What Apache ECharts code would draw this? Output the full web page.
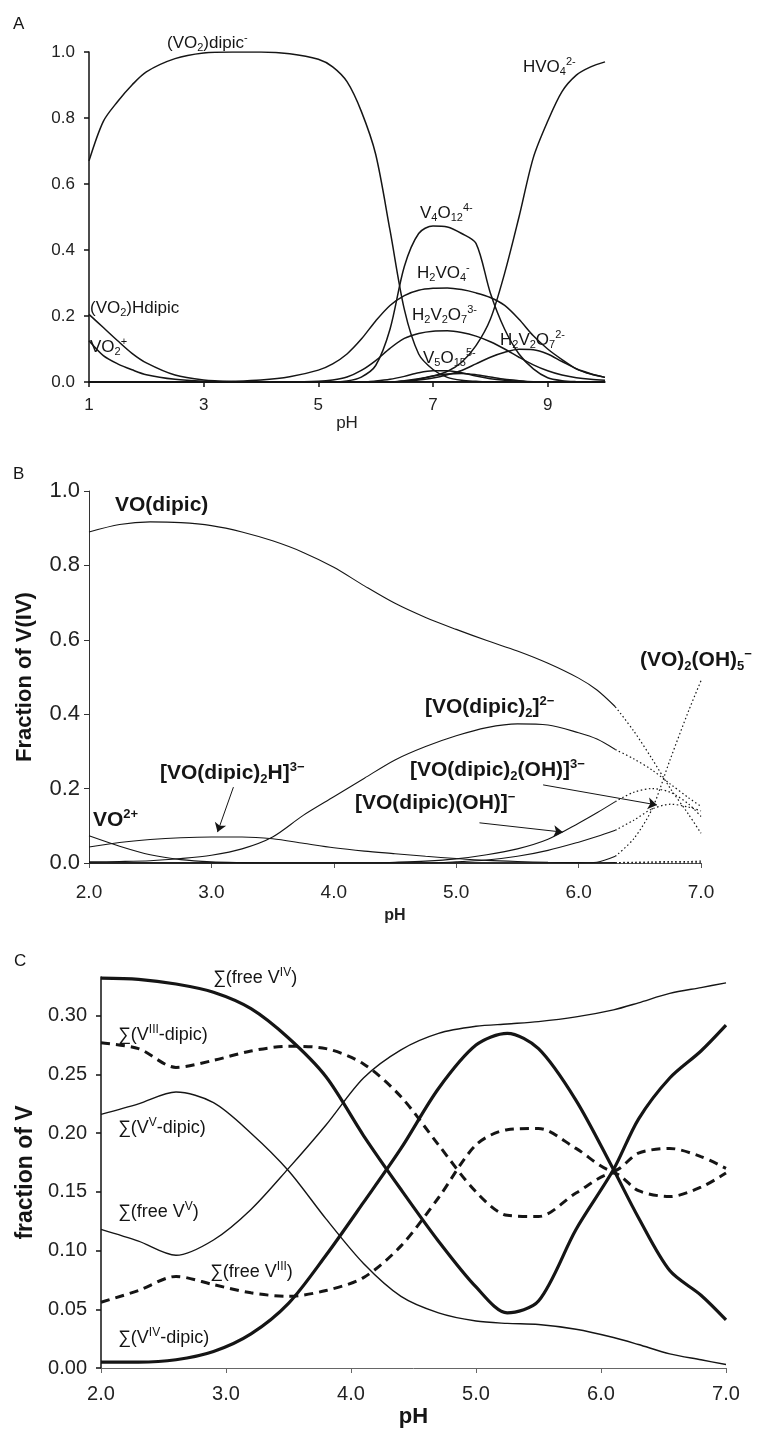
<!DOCTYPE html>
<html>
<head>
<meta charset="utf-8">
<title>Vanadium speciation</title>
<script src="https://cdn.jsdelivr.net/npm/echarts@6/dist/echarts.min.js"></script>
<style>
  *{margin:0; padding:0;}
  body{background:#fff;}
  #main{width:772px; height:1431px;}
</style>
</head>
<body>
<div id="main"></div>
<script>
// ---------- panel A : V(V) / dipic ----------
var phA = [1, 1.25, 1.5, 1.75, 2, 2.5, 3, 3.5, 4, 4.5, 5, 5.25, 5.5, 5.75, 6, 6.25, 6.5, 6.75, 7, 7.25, 7.5, 7.75, 8, 8.25, 8.5, 8.75, 9, 9.25, 9.5, 9.75, 10];
var aVO2dipic = [0.67, 0.79, 0.85, 0.90, 0.94, 0.98, 0.997, 1.0, 1.0, 0.995, 0.978, 0.955, 0.91, 0.82, 0.69, 0.46, 0.22, 0.085, 0.038, 0.014, 0.005, 0.002, 0, 0, 0, 0, 0, 0, 0, 0, 0];
var aHVO4 = [0, 0, 0, 0, 0, 0, 0, 0, 0, 0, 0, 0, 0, 0, 0, 0, 0.002, 0.008, 0.018, 0.032, 0.06, 0.11, 0.19, 0.33, 0.5, 0.68, 0.79, 0.88, 0.93, 0.955, 0.97];
var aV4O12 = [0, 0, 0, 0, 0, 0, 0, 0, 0, 0, 0, 0, 0.003, 0.015, 0.05, 0.16, 0.35, 0.45, 0.473, 0.47, 0.45, 0.42, 0.27, 0.16, 0.085, 0.04, 0.013, 0.004, 0.001, 0, 0];
var aH2VO4 = [0, 0, 0, 0, 0, 0, 0, 0.002, 0.006, 0.016, 0.036, 0.055, 0.085, 0.13, 0.185, 0.232, 0.262, 0.278, 0.284, 0.285, 0.28, 0.27, 0.256, 0.232, 0.19, 0.14, 0.1, 0.068, 0.04, 0.024, 0.014];
var aH2V2O7_3 = [0, 0, 0, 0, 0, 0, 0, 0, 0, 0, 0.002, 0.006, 0.015, 0.035, 0.065, 0.102, 0.132, 0.147, 0.154, 0.155, 0.15, 0.139, 0.122, 0.1, 0.075, 0.052, 0.034, 0.021, 0.013, 0.008, 0.005];
var aH2V2O7_2 = [0, 0, 0, 0, 0, 0, 0, 0, 0, 0, 0, 0, 0, 0, 0, 0, 0.002, 0.006, 0.012, 0.022, 0.035, 0.055, 0.075, 0.09, 0.099, 0.098, 0.085, 0.062, 0.04, 0.025, 0.014];
var aV5O15 = [0, 0, 0, 0, 0, 0, 0, 0, 0, 0, 0, 0, 0, 0, 0.003, 0.008, 0.017, 0.028, 0.034, 0.034, 0.028, 0.018, 0.01, 0.005, 0.002, 0, 0, 0, 0, 0, 0];
var aMinor = [0, 0, 0, 0, 0, 0, 0, 0, 0, 0, 0, 0, 0, 0, 0, 0, 0.004, 0.01, 0.018, 0.024, 0.026, 0.022, 0.015, 0.008, 0.004, 0.001, 0, 0, 0, 0, 0];
var aVO2plus = [0.125, 0.08, 0.055, 0.037, 0.022, 0.008, 0.002, 0, 0, 0, 0, 0, 0, 0, 0, 0, 0, 0, 0, 0, 0, 0, 0, 0, 0, 0, 0, 0, 0, 0, 0];
var aVO2Hdipic = [0.205, 0.165, 0.125, 0.087, 0.058, 0.021, 0.006, 0.001, 0, 0, 0, 0, 0, 0, 0, 0, 0, 0, 0, 0, 0, 0, 0, 0, 0, 0, 0, 0, 0, 0, 0];
var ticksA = [1, 3, 5, 7, 9];

// ---------- panel B : V(IV) / dipic ----------
var phB = [2.0, 2.25, 2.5, 2.75, 3.0, 3.25, 3.5, 3.75, 4.0, 4.25, 4.5, 4.75, 5.0, 5.25, 5.5, 5.75, 6.0, 6.15, 6.3, 6.45, 6.6, 6.75, 6.9, 7.0];
var bVOdipic = [0.89, 0.91, 0.917, 0.915, 0.907, 0.89, 0.866, 0.835, 0.795, 0.745, 0.698, 0.66, 0.628, 0.598, 0.57, 0.537, 0.497, 0.465, 0.42, 0.355, 0.28, 0.2, 0.13, 0.08];
var bVOdipic2 = [0.003, 0.004, 0.006, 0.012, 0.021, 0.038, 0.07, 0.128, 0.178, 0.228, 0.277, 0.313, 0.342, 0.364, 0.374, 0.371, 0.35, 0.333, 0.305, 0.28, 0.25, 0.212, 0.175, 0.152];
var bVOdipic2H = [0.043, 0.055, 0.063, 0.068, 0.07, 0.07, 0.065, 0.053, 0.041, 0.032, 0.025, 0.018, 0.012, 0.007, 0.004, 0.002, 0.001, 0, 0, 0, 0, 0, 0, 0];
var bVO2plus = [0.073, 0.045, 0.022, 0.009, 0.003, 0.001, 0, 0, 0, 0, 0, 0, 0, 0, 0, 0, 0, 0, 0, 0, 0, 0, 0, 0];
var bVOdipicOH = [0, 0, 0, 0, 0, 0, 0, 0, 0, 0, 0.002, 0.005, 0.011, 0.022, 0.038, 0.064, 0.107, 0.135, 0.165, 0.19, 0.2, 0.19, 0.158, 0.125];
var bVOdipic2OH = [0, 0, 0, 0, 0, 0, 0, 0, 0, 0, 0, 0, 0.003, 0.008, 0.018, 0.034, 0.056, 0.071, 0.088, 0.115, 0.145, 0.158, 0.15, 0.14];
var bVO2OH5 = [0, 0, 0, 0, 0, 0, 0, 0, 0, 0, 0, 0, 0, 0, 0, 0, 0, 0.002, 0.018, 0.065, 0.145, 0.28, 0.41, 0.49];
var bMinor = [0, 0, 0, 0, 0, 0, 0, 0, 0, 0, 0, 0, 0, 0, 0, 0, 0, 0, 0.001, 0.002, 0.003, 0.004, 0.004, 0.005];
var dottedFromB = 6.3;
// arrows: [from, to] in (pH, fraction)
var arrowsB = [
  [[3.18, 0.204], [3.05, 0.083]],
  [[5.71, 0.21], [6.64, 0.156]],
  [[5.19, 0.108], [5.87, 0.083]]
];

// ---------- panel C : mixed V(III)/V(IV)/V(V) ----------
var phC = [2.0, 2.3, 2.6, 2.9, 3.2, 3.5, 3.8, 4.1, 4.4, 4.7, 5.0, 5.25, 5.5, 5.8, 6.1, 6.3, 6.55, 6.8, 7.0];
var cFreeV4 = [0.332, 0.331, 0.327, 0.32, 0.306, 0.281, 0.248, 0.198, 0.152, 0.108, 0.069, 0.047, 0.057, 0.118, 0.169, 0.212, 0.247, 0.27, 0.292];
var cV4dipic = [0.005, 0.005, 0.007, 0.014, 0.029, 0.055, 0.096, 0.141, 0.187, 0.238, 0.275, 0.285, 0.272, 0.228, 0.169, 0.128, 0.083, 0.062, 0.041];
var cV5dipic = [0.216, 0.225, 0.235, 0.226, 0.2, 0.168, 0.127, 0.089, 0.061, 0.047, 0.04, 0.038, 0.037, 0.033, 0.026, 0.02, 0.012, 0.007, 0.003];
var cFreeV5 = [0.118, 0.108, 0.096, 0.109, 0.135, 0.17, 0.207, 0.247, 0.271, 0.285, 0.291, 0.293, 0.295, 0.299, 0.305, 0.311, 0.319, 0.324, 0.328];
var cV3dipic = [0.277, 0.272, 0.256, 0.262, 0.27, 0.274, 0.272, 0.259, 0.231, 0.19, 0.15, 0.13, 0.129, 0.149, 0.166, 0.151, 0.146, 0.154, 0.166];
var cFreeV3 = [0.056, 0.066, 0.078, 0.071, 0.064, 0.061, 0.066, 0.077, 0.104, 0.145, 0.19, 0.203, 0.204, 0.187, 0.168, 0.183, 0.187, 0.18, 0.17];
var ticksCy = [0, 0.05, 0.10, 0.15, 0.20, 0.25, 0.30];

var FONT = 'Arial, "Liberation Sans", Helvetica, sans-serif';
var INK = '#151515';

function pairs(xs, ys) {
  return xs.map(function (x, i) { return [x, ys[i]]; });
}
function part(xs, ys, cut, before) {
  var out = [];
  xs.forEach(function (x, i) {
    if (before ? x <= cut : x >= cut) out.push([x, ys[i]]);
  });
  return out;
}
function line(idx, data, width, type) {
  return {
    type: 'line', xAxisIndex: idx, yAxisIndex: idx, data: data,
    showSymbol: false, smooth: 0.3, silent: true,
    lineStyle: { color: INK, width: width, type: type || 'solid' }
  };
}

// rich text labels, n = normal, b = subscript, p = superscript
function label(x, y, str, size, weight) {
  var small = Math.round(size * 0.64);
  return {
    type: 'text', x: x, y: y, silent: true,
    style: {
      text: str, fill: INK, align: 'left', verticalAlign: 'middle',
      fontSize: size, fontFamily: FONT, fontWeight: weight,
      rich: {
        n: { fontSize: size, fontFamily: FONT, fontWeight: weight, fill: INK, lineHeight: size + 4 },
        b: { fontSize: small, fontFamily: FONT, fontWeight: weight, fill: INK, lineHeight: small + 1, verticalAlign: 'bottom' },
        p: { fontSize: small, fontFamily: FONT, fontWeight: weight, fill: INK, lineHeight: small + 1, verticalAlign: 'top' }
      }
    }
  };
}

var labelsA = [
  [167, 43, '{n|(VO}{b|2}{n|)dipic}{p|-}'],
  [523, 67, '{n|HVO}{b|4}{p|2-}'],
  [420, 213, '{n|V}{b|4}{n|O}{b|12}{p|4-}'],
  [417, 273, '{n|H}{b|2}{n|VO}{b|4}{p|-}'],
  [412, 315, '{n|H}{b|2}{n|V}{b|2}{n|O}{b|7}{p|3-}'],
  [500, 340, '{n|H}{b|2}{n|V}{b|2}{n|O}{b|7}{p|2-}'],
  [423, 358, '{n|V}{b|5}{n|O}{b|15}{p|5-}'],
  [90, 308, '{n|(VO}{b|2}{n|)Hdipic}'],
  [90, 347, '{n|VO}{b|2}{p|+}']
];
var labelsB = [
  [115, 505, '{n|VO(dipic)}'],
  [640, 660, '{n|(VO)}{b|2}{n|(OH)}{b|5}{p|−}'],
  [425, 707, '{n|[VO(dipic)}{b|2}{n|]}{p|2−}'],
  [160, 773, '{n|[VO(dipic)}{b|2}{n|H]}{p|3−}'],
  [93, 820, '{n|VO}{p|2+}'],
  [410, 770, '{n|[VO(dipic)}{b|2}{n|(OH)]}{p|3−}'],
  [355, 803, '{n|[VO(dipic)(OH)]}{p|−}']
];
var labelsC = [
  [213, 978, '{n|∑(free V}{p|IV}{n|)}'],
  [118, 1035, '{n|∑(V}{p|III}{n|-dipic)}'],
  [118, 1128, '{n|∑(V}{p|V}{n|-dipic)}'],
  [118, 1212, '{n|∑(free V}{p|V}{n|)}'],
  [210, 1272, '{n|∑(free V}{p|III}{n|)}'],
  [118, 1338, '{n|∑(V}{p|IV}{n|-dipic)}']
];

var graphics = [];
labelsA.forEach(function (l) { graphics.push(label(l[0], l[1], l[2], 17, 'normal')); });
labelsB.forEach(function (l) { graphics.push(label(l[0], l[1], l[2], 21, 'bold')); });
labelsC.forEach(function (l) { graphics.push(label(l[0], l[1], l[2], 18, 'normal')); });
[['A', 13, 24], ['B', 13, 474], ['C', 14, 961]].forEach(function (p) {
  graphics.push({ type: 'text', x: p[1], y: p[2], silent: true,
    style: { text: p[0], fill: INK, fontSize: 17, fontFamily: FONT, verticalAlign: 'middle' } });
});

var series = [];
// A
[aVO2dipic, aHVO4, aV4O12, aH2VO4, aH2V2O7_3, aH2V2O7_2, aV5O15, aMinor, aVO2plus, aVO2Hdipic].forEach(function (ys) {
  series.push(line(0, pairs(phA, ys), 1.5));
});
// B: solid below pH 6.3, dotted above
[bVOdipic, bVOdipic2, bVOdipic2H, bVO2plus, bVOdipicOH, bVOdipic2OH, bVO2OH5, bMinor].forEach(function (ys) {
  series.push(line(1, part(phB, ys, dottedFromB, true), 1.1));
  series.push(line(1, part(phB, ys, dottedFromB, false), 1.2, [1.5, 2.5]));
});
series[10].markLine = {
  silent: true, symbol: ['none', 'arrow'], symbolSize: 9, animation: false,
  label: { show: false },
  lineStyle: { color: INK, width: 1, type: 'solid' },
  data: arrowsB.map(function (a) { return [{ coord: a[0] }, { coord: a[1] }]; })
};
// C
series.push(line(2, pairs(phC, cFreeV4), 3.2));
series.push(line(2, pairs(phC, cV4dipic), 3.2));
series.push(line(2, pairs(phC, cV5dipic), 1.4));
series.push(line(2, pairs(phC, cFreeV5), 1.4));
series.push(line(2, pairs(phC, cV3dipic), 3, [9, 6]));
series.push(line(2, pairs(phC, cFreeV3), 3, [9, 6]));

function axisBase(idx, lineColor, lineWidth) {
  return {
    gridIndex: idx, type: 'value', splitLine: { show: false },
    axisLine: { show: true, onZero: false, lineStyle: { color: lineColor, width: lineWidth } },
    axisTick: { show: true, length: 5, lineStyle: { color: lineColor, width: lineWidth } }
  };
}

var xA = axisBase(0, '#111', 1.5);
xA.min = 1; xA.max = 10;
xA.axisTick.customValues = ticksA;
xA.axisLabel = { customValues: ticksA, fontSize: 17, color: '#222', fontFamily: FONT, margin: 15 };
xA.name = 'pH'; xA.nameLocation = 'middle'; xA.nameGap = 33;
xA.nameTextStyle = { fontSize: 17, color: '#222', fontFamily: FONT };

var yA = axisBase(0, '#111', 1.5);
yA.min = 0; yA.max = 1; yA.interval = 0.2;
yA.axisLabel = { fontSize: 17, color: '#222', fontFamily: FONT, margin: 14,
  formatter: function (v) { return v.toFixed(1); } };

var xB = axisBase(1, '#555', 1);
xB.min = 2; xB.max = 7; xB.interval = 1;
xB.axisLabel = { fontSize: 19, color: '#222', fontFamily: FONT, margin: 20,
  formatter: function (v) { return v.toFixed(1); } };
xB.name = 'pH'; xB.nameLocation = 'middle'; xB.nameGap = 45;
xB.nameTextStyle = { fontSize: 16, fontWeight: 'bold', color: '#222', fontFamily: FONT };

var yB = axisBase(1, '#333', 1);
yB.min = 0; yB.max = 1; yB.interval = 0.2;
yB.axisLabel = { fontSize: 22, color: '#222', fontFamily: FONT, margin: 9,
  formatter: function (v) { return v.toFixed(1); } };
yB.name = 'Fraction of V(IV)'; yB.nameLocation = 'middle'; yB.nameGap = 53;
yB.nameTextStyle = { fontSize: 22, fontWeight: 'bold', color: INK, fontFamily: FONT };

var xC = axisBase(2, '#666', 1);
xC.min = 2; xC.max = 7; xC.interval = 1;
xC.axisLabel = { fontSize: 20, color: '#222', fontFamily: FONT, margin: 16,
  formatter: function (v) { return v.toFixed(1); } };
xC.name = 'pH'; xC.nameLocation = 'middle'; xC.nameGap = 38;
xC.nameTextStyle = { fontSize: 22, fontWeight: 'bold', color: INK, fontFamily: FONT };

var yC = axisBase(2, '#111', 1.5);
yC.min = 0; yC.max = 0.333;
yC.axisTick.customValues = ticksCy;
yC.axisLabel = { customValues: ticksCy, fontSize: 20, color: '#222', fontFamily: FONT, margin: 14,
  formatter: function (v) { return v.toFixed(2); } };
yC.name = 'fraction of V'; yC.nameLocation = 'middle'; yC.nameGap = 63;
yC.nameTextStyle = { fontSize: 23, fontWeight: 'bold', color: INK, fontFamily: FONT };

var option = {
  backgroundColor: '#fff',
  animation: false,
  grid: [
    { left: 89, top: 52, width: 516, height: 330 },
    { left: 89, top: 491, width: 612, height: 372 },
    { left: 101, top: 977, width: 625, height: 391 }
  ],
  xAxis: [xA, xB, xC],
  yAxis: [yA, yB, yC],
  series: series,
  graphic: graphics
};

var myChart = echarts.init(document.getElementById('main'));
myChart.setOption(option);
</script>
</body>
</html>
